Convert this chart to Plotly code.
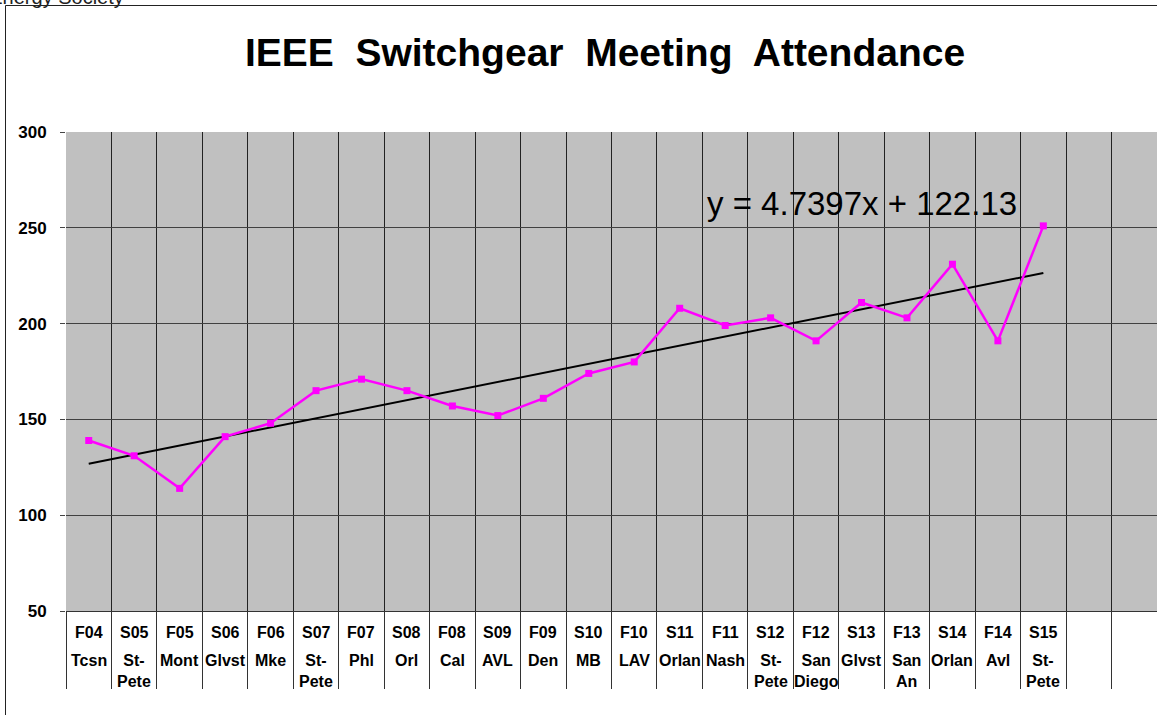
import plotly.graph_objects as go

# ---- data ----
codes = ["F04", "S05", "F05", "S06", "F06", "S07", "F07", "S08", "F08", "S09", "F09",
         "S10", "F10", "S11", "F11", "S12", "F12", "S13", "F13", "S14", "F14", "S15"]
locations = ["Tcsn", "St-\nPete", "Mont", "Glvst", "Mke", "St-\nPete", "Phl", "Orl", "Cal",
             "AVL", "Den", "MB", "LAV", "Orlan", "Nash", "St-\nPete", "San\nDiego", "Glvst",
             "San\nAn", "Orlan", "Avl", "St-\nPete"]
attendance = [139, 131, 114, 141, 148, 165, 171, 165, 157, 152, 161,
              174, 180, 208, 199, 203, 191, 211, 203, 231, 191, 251]
trend_slope = 4.7397
trend_intercept = 122.13
n_slots = 24          # category slots on the axis (two trailing empty ones)
y_ticks = [50, 100, 150, 200, 250, 300]

# ---- layout geometry (pixels) ----
W, H = 1157, 715
ML, MR, MT, MB = 66, 0, 132, 104
PW, PH = W - ML - MR, H - MT - MB

def py(ypix):
    """pixel row -> paper y"""
    return (H - MB - ypix) / PH

def px(xpix):
    return (xpix - ML) / PW

FONT = "Liberation Sans, Arial, sans-serif"

xs = list(range(len(codes)))
trend_y = [trend_slope * (i + 1) + trend_intercept for i in xs]
boundaries = [k - 0.5 for k in range(n_slots + 1)]

fig = go.Figure()
fig.add_trace(go.Scatter(
    x=xs, y=trend_y, mode="lines",
    line=dict(color="black", width=2), hoverinfo="skip", showlegend=False))
fig.add_trace(go.Scatter(
    x=xs, y=attendance, mode="lines+markers",
    line=dict(color="#FF00FF", width=2.5),
    marker=dict(symbol="square", size=7, color="#FF00FF"),
    showlegend=False))

annotations = []
for i, (c, loc) in enumerate(zip(codes, locations)):
    annotations.append(dict(
        x=i, xref="x", y=py(632), yref="paper", text=c, showarrow=False,
        xanchor="center", yanchor="middle",
        font=dict(family=FONT, size=16, color="black", weight="bold")))
    annotations.append(dict(
        x=i, xref="x", y=py(650), yref="paper", text=loc.replace("\n", "<br>"),
        showarrow=False, xanchor="center", yanchor="top",
        font=dict(family=FONT, size=16, color="black", weight="bold")))

# trend equation
annotations.append(dict(
    x=px(705), xref="paper", y=py(203), yref="paper",
    text=f"y = {trend_slope}x + {trend_intercept}", showarrow=False,
    xanchor="left", yanchor="middle",
    font=dict(family=FONT, size=33, color="black")))

# clipped caption above the chart frame
annotations.append(dict(
    x=px(126), xref="paper", y=py(-3), yref="paper",
    text="IEEE Power &amp; Energy Society", showarrow=False,
    xanchor="right", yanchor="middle",
    font=dict(family=FONT, size=20, color="#222")))

fig.update_layout(
    width=W, height=H,
    margin=dict(l=ML, r=MR, t=MT, b=MB, pad=0),
    paper_bgcolor="white", plot_bgcolor="#C0C0C0",
    title=dict(text="IEEE\u00a0 Switchgear\u00a0 Meeting\u00a0 Attendance",
               x=605 / W, xref="container", xanchor="center",
               y=1 - 52 / H, yref="container", yanchor="middle",
               font=dict(family=FONT, size=39, color="black", weight="bold")),
    xaxis=dict(range=[-0.5, n_slots - 0.5], tickvals=boundaries,
               showticklabels=False, showgrid=True, gridcolor="#222222",
               gridwidth=1, zeroline=False, ticks="outside", ticklen=77,
               tickcolor="#333333", tickwidth=1, showline=True,
               linecolor="#333333", linewidth=1, automargin=False, fixedrange=True),
    yaxis=dict(range=[50, 300], tickvals=y_ticks, showgrid=True,
               gridcolor="#404040", gridwidth=1, zeroline=False,
               ticks="outside", ticklen=5, tickcolor="#444444",
               ticklabelstandoff=10,
               tickfont=dict(family=FONT, size=17, color="black", weight="bold"),
               showline=False, automargin=False, fixedrange=True),
    annotations=annotations,
    shapes=[dict(type="rect", xref="paper", yref="paper",
                 x0=px(5.5), x1=1.05, y0=py(730), y1=py(5.5),
                 line=dict(color="#222", width=1), fillcolor="rgba(0,0,0,0)",
                 layer="below")],
)

fig.write_html("out.html",
               config={"displayModeBar": False},
               post_script="document.body.style.margin='0';document.body.style.overflow='hidden';")
